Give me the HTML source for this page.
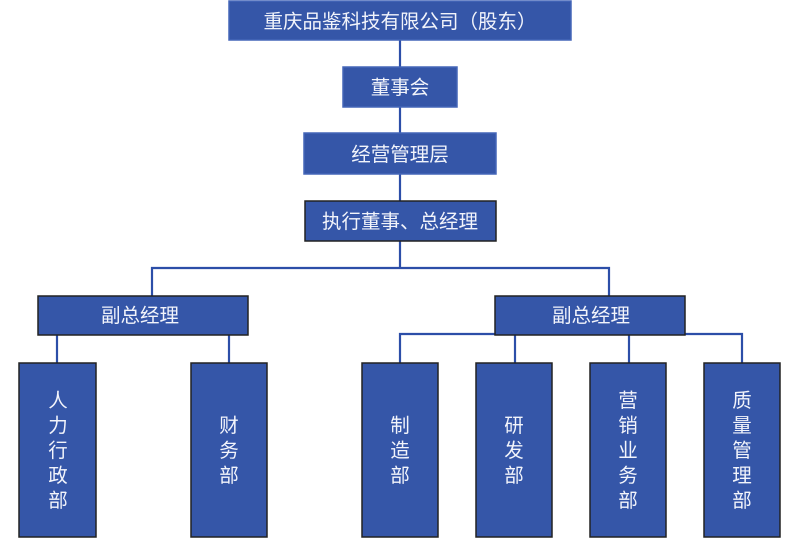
<!DOCTYPE html>
<html><head><meta charset="utf-8"><style>
html,body{margin:0;padding:0;background:#fff;width:800px;height:538px;overflow:hidden}
svg{display:block}
text{font-family:"Liberation Sans","Noto Sans CJK SC",sans-serif;fill:#f2f4fb;font-size:19.5px;text-anchor:middle}
</style></head><body>
<svg width="800" height="538" viewBox="0 0 800 538">
<g stroke="#2c4ea8" stroke-width="2.2" fill="none">
<line x1="400" y1="40" x2="400" y2="67"/>
<line x1="400" y1="107" x2="400" y2="133"/>
<line x1="400" y1="174" x2="400" y2="201"/>
<line x1="400" y1="241" x2="400" y2="268"/>
<polyline points="152,296 152,268 609,268 609,296"/>
<line x1="57" y1="335" x2="57" y2="363"/>
<line x1="229" y1="335" x2="229" y2="363"/>
<polyline points="400,363 400,334 742,334 742,363"/>
<line x1="515" y1="334" x2="515" y2="363"/>
<line x1="629" y1="334" x2="629" y2="363"/>
</g>
<g fill="#3556a8" stroke-width="1.5">
<rect x="229" y="1" width="342" height="39" stroke="#4566b8"/>
<rect x="343" y="67" width="114" height="40" stroke="#4566b8"/>
<rect x="304" y="133" width="192" height="41" stroke="#4566b8"/>
<rect x="305" y="201" width="191" height="40" stroke="#222"/>
<rect x="38" y="296" width="210" height="39" stroke="#222"/>
<rect x="495" y="296" width="190" height="39" stroke="#222"/>
<rect x="19" y="363" width="77" height="174" stroke="#222"/>
<rect x="191" y="363" width="76" height="174" stroke="#222"/>
<rect x="362" y="363" width="76" height="174" stroke="#222"/>
<rect x="476" y="363" width="76" height="174" stroke="#222"/>
<rect x="590" y="363" width="76" height="174" stroke="#222"/>
<rect x="704" y="363" width="76" height="174" stroke="#222"/>
</g>
<text x="400" y="28">重庆品鉴科技有限公司（股东）</text>
<text x="400" y="94">董事会</text>
<text x="400" y="161">经营管理层</text>
<text x="400" y="228">执行董事、总经理</text>
<text x="140" y="322">副总经理</text>
<text x="591" y="322">副总经理</text>
<g style="font-size:19px">
<text x="58" y="407">人</text><text x="58" y="432">力</text><text x="58" y="457">行</text><text x="58" y="482">政</text><text x="58" y="507">部</text>
<text x="229" y="432">财</text><text x="229" y="457">务</text><text x="229" y="482">部</text>
<text x="400" y="432">制</text><text x="400" y="457">造</text><text x="400" y="482">部</text>
<text x="514" y="432">研</text><text x="514" y="457">发</text><text x="514" y="482">部</text>
<text x="628" y="407">营</text><text x="628" y="432">销</text><text x="628" y="457">业</text><text x="628" y="482">务</text><text x="628" y="507">部</text>
<text x="742" y="407">质</text><text x="742" y="432">量</text><text x="742" y="457">管</text><text x="742" y="482">理</text><text x="742" y="507">部</text>
</g>
</svg>
</body></html>
